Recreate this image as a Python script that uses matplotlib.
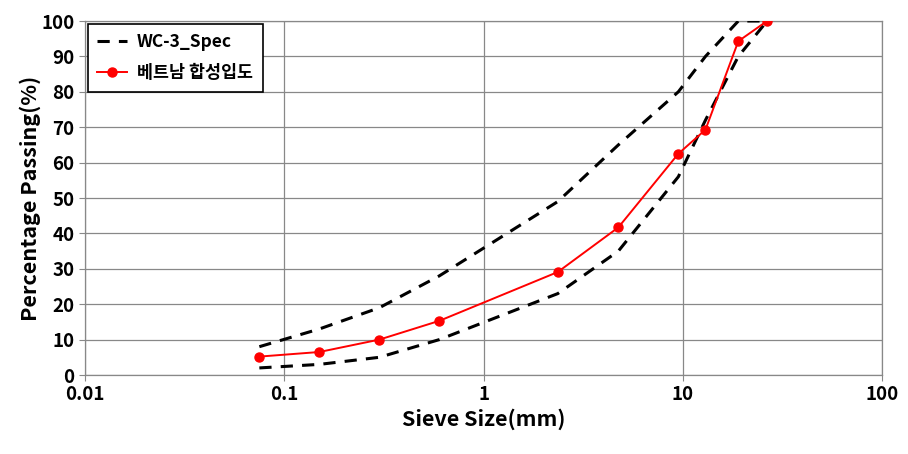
import matplotlib.pyplot as plt
from matplotlib.ticker import FixedLocator, FixedFormatter, NullLocator

plt.rcParams['font.family'] = ['Noto Sans CJK KR', 'DejaVu Sans']

# sieve sizes (mm)
sieve = [0.075, 0.15, 0.3, 0.6, 2.36, 4.75, 9.5, 13, 19, 26.5]
spec_upper = [8, 13, 19, 28, 49, 65, 80, 90, 100, 100]
spec_lower = [2, 3, 5, 10, 23, 35, 56, 72, 90, 100]
vietnam = [5.2, 6.5, 10.0, 15.3, 29.1, 41.7, 62.5, 69.3, 94.3, 100]

x_ticks = [0.01, 0.1, 1, 10, 100]
x_labels = ["0.01", "0.1", "1", "10", "100"]
y_ticks = list(range(0, 101, 10))

fig = plt.figure(figsize=(9.08, 4.54), dpi=100)
ax = fig.add_axes([0.0936, 0.174, 0.8778, 0.7797])

ax.plot(sieve, spec_upper, color="black", linestyle=(0, (4, 3)), linewidth=2.2,
        label="WC-3_Spec", zorder=3)
ax.plot(sieve, spec_lower, color="black", linestyle=(0, (4, 3)), linewidth=2.2,
        zorder=3)
ax.plot(sieve, vietnam, color="#ff0000", linewidth=1.4, marker="o",
        markersize=6.5, label="베트남 합성입도", zorder=4)

ax.set_xscale("log")
ax.set_xlim(0.01, 100)
ax.set_ylim(0, 100)
ax.xaxis.set_major_locator(FixedLocator(x_ticks))
ax.xaxis.set_major_formatter(FixedFormatter(x_labels))
ax.xaxis.set_minor_locator(NullLocator())
ax.set_yticks(y_ticks)

ax.grid(True, color="#888888", linewidth=0.9)
ax.set_axisbelow(True)
for s in ax.spines.values():
    s.set_color("#888888")
    s.set_linewidth(0.9)
ax.tick_params(axis="both", which="major", labelsize=13.5, color="#888888",
               length=4, direction="out")
for lab in ax.get_xticklabels() + ax.get_yticklabels():
    lab.set_fontweight("bold")

ax.set_xlabel("Sieve Size(mm)", fontsize=15.5, fontweight="bold", labelpad=3)
ax.set_ylabel("Percentage Passing(%)", fontsize=15.5, fontweight="bold", labelpad=0)

leg = ax.legend(loc="upper left", bbox_to_anchor=(0.0, 1.0), fancybox=False,
                framealpha=1, edgecolor="black", prop={"weight": "bold", "size": 12.5},
                handlelength=1.7, handletextpad=0.6, borderpad=0.55,
                labelspacing=0.75, borderaxespad=0.15)
leg.get_frame().set_linewidth(1.2)

fig.savefig("out.png", dpi=100)
